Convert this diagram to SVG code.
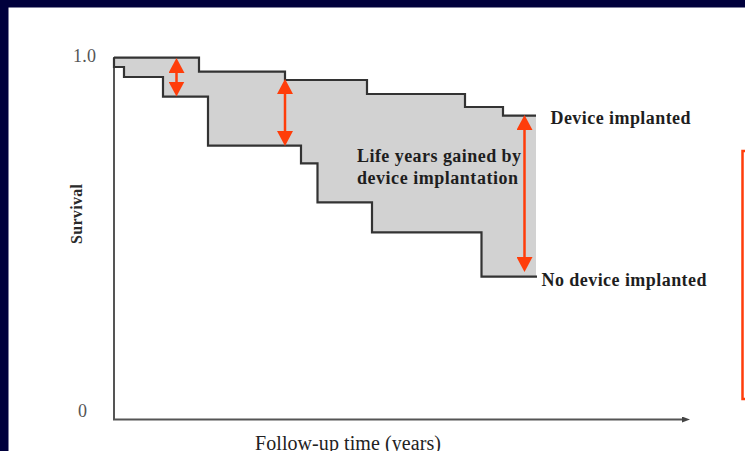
<svg xmlns="http://www.w3.org/2000/svg" width="745" height="451" viewBox="0 0 745 451">
<defs>
<style>
.frame{fill:#00003c}
.axis{fill:none;stroke:#555;stroke-width:2}
.curve{fill:none;stroke:#333;stroke-width:2.2;stroke-linejoin:miter}
.band{fill:#d2d2d2;stroke:none}
.gain{stroke:#ff3d0a;stroke-width:2.5;fill:none}
.lbl{font-family:"Liberation Serif",serif;font-weight:bold;font-size:18px;fill:#1e1e1e}
.tick{font-family:"Liberation Serif",serif;font-size:18px;fill:#555}
.ax{font-family:"Liberation Serif",serif;font-size:20px;fill:#222}
</style>
<marker id="head" viewBox="0 0 15 16" refX="9" refY="8" markerWidth="15" markerHeight="16" markerUnits="userSpaceOnUse" orient="auto-start-reverse">
<path d="M0,0 L15,8 L0,16 Z" fill="#ff3d0a"/>
</marker>
<marker id="axhead" viewBox="0 0 8 6" refX="2" refY="3" markerWidth="8" markerHeight="6" markerUnits="userSpaceOnUse" orient="auto">
<path d="M0,0 L8,3 L0,6 Z" fill="#444"/>
</marker>
</defs>
<rect width="745" height="451" fill="#ffffff"/>
<rect class="frame" x="0" y="0" width="745" height="7.5"/>
<rect class="frame" x="0" y="0" width="8.5" height="451"/>
<rect x="742.5" y="151" width="12" height="248" fill="none" stroke="#ff3d0a" stroke-width="2.5"/>

<g id="gain-area">
<path class="band" d="M114,57.7 H199 V71.7 H285 V80 H367 V94 H465 V107 H503 V115.7 H536 V276.7 H481.5 V232.3 H372 V202.3 H317.5 V163.3 H301 V145.7 H208 V96.7 H163 V77 H124 V67 H114 Z"/>
</g>

<g id="axes">
<path class="axis" d="M114,57 V419.5 H684" marker-end="url(#axhead)"/>
<text class="tick" x="73" y="62" textLength="23">1.0</text>
<text class="tick" x="78" y="417">0</text>
<text class="lbl" transform="translate(81.5,244) rotate(-90)" x="0" y="0" font-size="16" textLength="60" style="font-size:16px;fill:#2a2a2a">Survival</text>
<text class="ax" x="255" y="450" textLength="186">Follow-up time (years)</text>
</g>

<g id="device-implanted">
<path class="curve" d="M114,57.7 H199 V71.7 H285 V80 H367 V94 H465 V107 H503 V115.7 H536"/>
<text class="lbl" x="550.5" y="124" textLength="140">Device implanted</text>
</g>

<g id="no-device-implanted">
<path class="curve" d="M114,57.7 V67 H124 V77 H163 V96.7 H208 V145.7 H301 V163.3 H317.5 V202.3 H372 V232.3 H481.5 V276.7 H537"/>
<text class="lbl" x="541.5" y="286" textLength="165">No device implanted</text>
</g>

<g id="life-years-label">
<text class="lbl" x="357" y="162" textLength="164">Life years gained by</text>
<text class="lbl" x="357" y="184" textLength="161">device implantation</text>
</g>

<g id="connectors">
<line class="gain" x1="176.5" y1="64" x2="176.5" y2="90.5" marker-start="url(#head)" marker-end="url(#head)"/>
<line class="gain" x1="285" y1="85" x2="285" y2="140" marker-start="url(#head)" marker-end="url(#head)"/>
<line class="gain" x1="524.5" y1="121" x2="524.5" y2="266" marker-start="url(#head)" marker-end="url(#head)"/>
</g>
</svg>
